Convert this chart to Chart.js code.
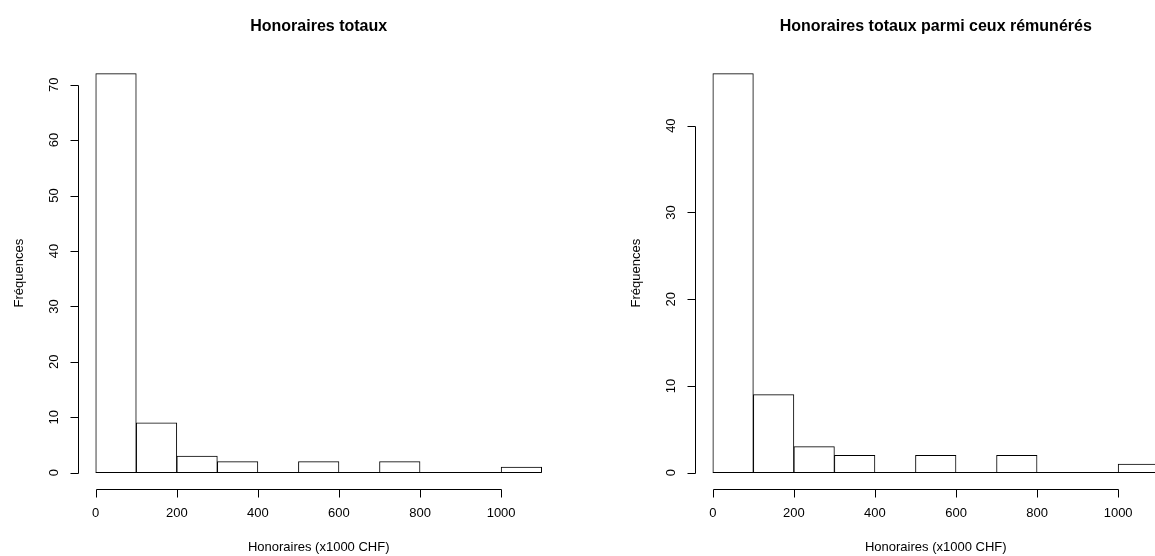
<!DOCTYPE html>
<html lang="fr">
<head>
<meta charset="UTF-8">
<title>Honoraires totaux</title>
<script src="https://cdn.jsdelivr.net/npm/chart.js@4.4.0/dist/chart.umd.min.js"></script>
<style>
  html, body { margin: 0; padding: 0; background: #fff; overflow: hidden; width: 1155px; height: 556px; }
  .panel { position: absolute; top: 0; height: 556px; }
  #left { left: 0; width: 578px; }
  #right { left: 578px; width: 617px; }
</style>
</head>
<body>
<div class="panel" id="left"><canvas id="histTotal"></canvas></div>
<div class="panel" id="right"><canvas id="histPaid"></canvas></div>

<script>
// histogram bins (x1000 CHF) and counts
const breaks = [0, 100, 200, 300, 400, 500, 600, 700, 800, 900, 1000, 1100];
const countsTotal = [72, 9, 3, 2, 0, 2, 0, 2, 0, 0, 1];
const countsPaid = [46, 9, 3, 2, 0, 2, 0, 2, 0, 0, 1];

const xTicks = [0, 200, 400, 600, 800, 1000];
const yTicksTotal = [0, 10, 20, 30, 40, 50, 60, 70];
const yTicksPaid = [0, 10, 20, 30, 40];

const titleTotal = 'Honoraires totaux';
const titlePaid = 'Honoraires totaux parmi ceux rémunérés';
const xLabel = 'Honoraires (x1000 CHF)';
const yLabel = 'Fréquences';

const FONT = '"Liberation Sans", Arial, Helvetica, sans-serif';

// R style axes, titles and zero-height bins
const rAxes = {
  id: 'rAxes',
  afterDraw(chart, args, opts) {
    const ctx = chart.ctx;
    const xs = chart.scales.x, ys = chart.scales.y, area = chart.chartArea;
    const px = v => Math.round(v) + 0.5;
    ctx.save();
    ctx.strokeStyle = '#000';
    ctx.fillStyle = '#000';
    ctx.lineWidth = 1;

    // baseline (also the bottom of every bin, empty ones included)
    const yb = Math.round(ys.getPixelForValue(0)) - 0.5;
    ctx.beginPath();
    ctx.moveTo(xs.getPixelForValue(breaks[0]), yb);
    ctx.lineTo(xs.getPixelForValue(breaks[breaks.length - 1]), yb);
    ctx.stroke();

    // x axis
    const ax = px(area.bottom);
    ctx.beginPath();
    ctx.moveTo(px(xs.getPixelForValue(xTicks[0])), ax);
    ctx.lineTo(px(xs.getPixelForValue(xTicks[xTicks.length - 1])), ax);
    xTicks.forEach(v => {
      const x = px(xs.getPixelForValue(v));
      ctx.moveTo(x, ax);
      ctx.lineTo(x, ax + 8);
    });
    ctx.stroke();
    ctx.font = '13px ' + FONT;
    ctx.textAlign = 'center';
    ctx.textBaseline = 'middle';
    xTicks.forEach(v => ctx.fillText(String(v), xs.getPixelForValue(v), ax + 24));
    ctx.fillText(xLabel, (area.left + area.right) / 2, ax + 58);

    // y axis
    const ay = px(area.left);
    const yt = opts.yTicks;
    ctx.beginPath();
    ctx.moveTo(ay, px(ys.getPixelForValue(yt[0])));
    ctx.lineTo(ay, px(ys.getPixelForValue(yt[yt.length - 1])));
    yt.forEach(v => {
      const y = px(ys.getPixelForValue(v));
      ctx.moveTo(ay, y);
      ctx.lineTo(ay - 8, y);
    });
    ctx.stroke();
    yt.forEach(v => {
      ctx.save();
      ctx.translate(ay - 24, ys.getPixelForValue(v));
      ctx.rotate(-Math.PI / 2);
      ctx.fillText(String(v), 0, 0);
      ctx.restore();
    });
    ctx.save();
    ctx.translate(ay - 59, (area.top + area.bottom) / 2);
    ctx.rotate(-Math.PI / 2);
    ctx.fillText(yLabel, 0, 0);
    ctx.restore();

    // main title
    ctx.font = 'bold 16px ' + FONT;
    ctx.textBaseline = 'alphabetic';
    ctx.fillText(opts.title, (area.left + area.right) / 2, 31);
    ctx.restore();
  }
};

function makeHist(id, counts, yTicks, title, padLeft) {
  const ymax = Math.max(...counts);
  const xlo = breaks[0], xhi = breaks[breaks.length - 1];
  const xpad = (xhi - xlo) * 0.04;
  return new Chart(document.getElementById(id), {
    type: 'bar',
    data: {
      datasets: [{
        data: counts.map((c, i) => ({ x: (breaks[i] + breaks[i + 1]) / 2, y: c })),
        backgroundColor: '#fff',
        borderColor: '#000',
        borderWidth: 1,
        borderSkipped: 'start',
        barPercentage: 1,
        categoryPercentage: 1
      }]
    },
    options: {
      responsive: true,
      maintainAspectRatio: false,
      animation: false,
      events: [],
      layout: { padding: { left: padLeft, right: 18.5, top: 57.6, bottom: 67.3 } },
      scales: {
        x: {
          type: 'linear',
          offset: false,
          display: false,
          min: xlo - xpad,
          max: xhi + xpad,
          afterBuildTicks: s => { s.ticks = xTicks.map(v => ({ value: v })); }
        },
        y: {
          display: false,
          min: -ymax * 0.04,
          max: ymax * 1.04
        }
      },
      plugins: {
        legend: { display: false },
        tooltip: { enabled: false },
        rAxes: { title: title, yTicks: yTicks }
      }
    },
    plugins: [rAxes]
  });
}

makeHist('histTotal', countsTotal, yTicksTotal, titleTotal, 77.9);
makeHist('histPaid', countsPaid, yTicksPaid, titlePaid, 117);
</script>
</body>
</html>
